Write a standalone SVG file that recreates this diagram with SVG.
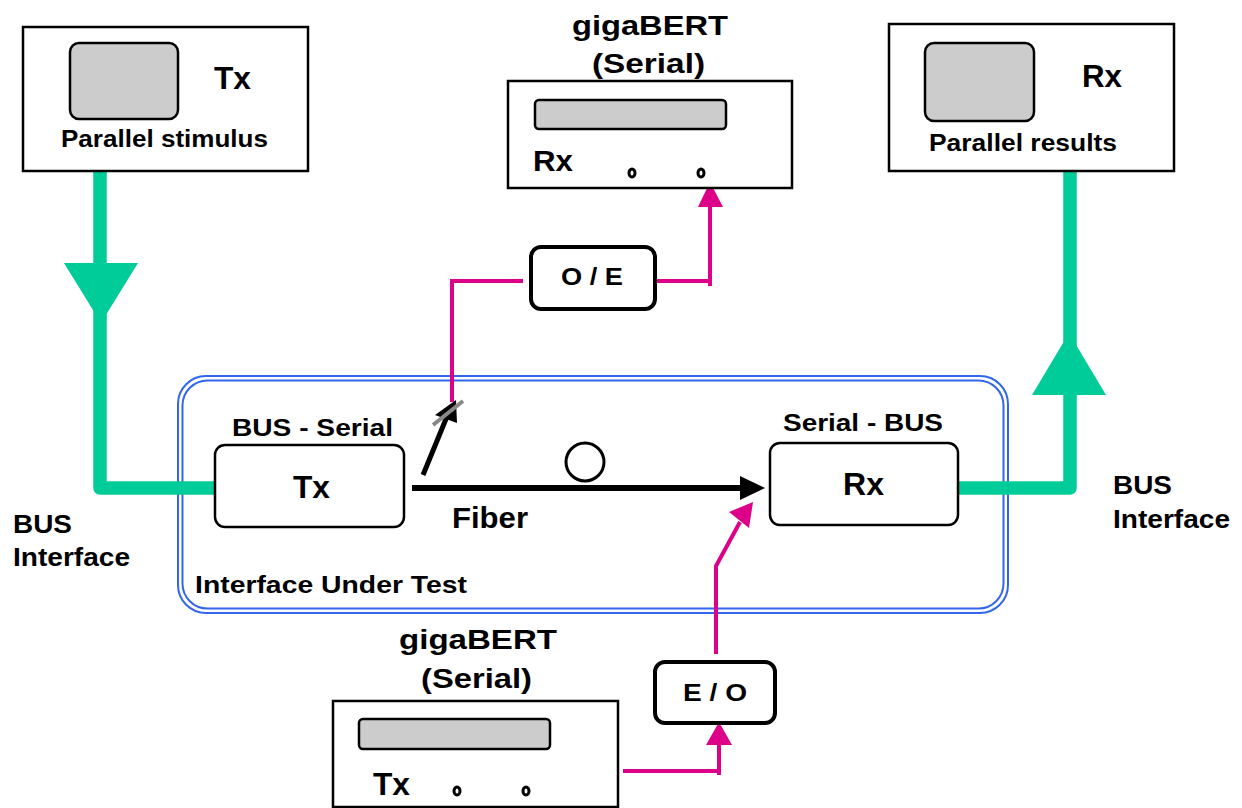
<svg xmlns="http://www.w3.org/2000/svg" width="1242" height="808" viewBox="0 0 1242 808">
<style>
text{font-family:"Liberation Sans",Arial,sans-serif;font-weight:bold;fill:#000}
.box{fill:#fff;stroke:#000;stroke-width:2.5}
.scr{fill:#ccc;stroke:#000;stroke-width:2.5}
.blk{fill:#fff;stroke:#000;stroke-width:2.5}
.conv{fill:#fff;stroke:#000;stroke-width:4}
.knob{fill:#fff;stroke:#000;stroke-width:3}
.bus{fill:none;stroke:#00cc99;stroke-width:13.5;stroke-linejoin:round}
.busHead{fill:#00cc99}
.mag{fill:none;stroke:#dd0088;stroke-width:4}
.magHead{fill:#dd0088}
.blue{fill:none;stroke:#3366ee;stroke-width:2}
</style>
<rect width="1242" height="808" fill="#fff"/>

<g id="iut">
<rect class="blue" x="178" y="376" width="830" height="237" rx="28"/>
<rect class="blue" x="182.5" y="380.5" width="821" height="228" rx="25"/>
<text x="195" y="593" font-size="24" textLength="272" lengthAdjust="spacingAndGlyphs">Interface Under Test</text>
</g>

<g id="connectors">
<path class="bus" d="M100,171 V488 H216"/>
<polygon class="busHead" points="64,263 138,263 101,323"/>
<path class="bus" d="M957,488 H1070 V171"/>
<polygon class="busHead" points="1032,395 1106,395 1069,333"/>
<line x1="412" y1="488" x2="742" y2="488" stroke="#000" stroke-width="6"/>
<polygon points="740,476 765,488 740,500" fill="#000"/>
<line x1="423" y1="475" x2="448" y2="414" stroke="#000" stroke-width="5"/>
<polygon points="435,415 457,423 456,400" fill="#000"/>
<line x1="433" y1="425" x2="463" y2="401" stroke="#888" stroke-width="4"/>
<path class="mag" d="M452,402 V281 H523"/>
<path class="mag" d="M656,281 H710 M710,286 V205"/>
<polygon class="magHead" points="698,207 723,207 710,182"/>
<path class="mag" d="M623,771 H717 M719,775 V743"/>
<polygon class="magHead" points="706,745 732,745 719,722"/>
<path class="mag" d="M716,654 V566 L740,522"/>
<polygon class="magHead" points="729,512 749,528 753,502"/>
</g>

<g id="fiber">
<circle cx="585" cy="462" r="19" fill="#fff" stroke="#000" stroke-width="3"/>
<text x="452" y="528" font-size="30" textLength="76" lengthAdjust="spacingAndGlyphs">Fiber</text>
</g>

<g id="parallel-tx">
<rect class="box" x="23" y="27" width="285" height="144"/>
<rect class="scr" x="70" y="43" width="108" height="76" rx="9"/>
<text x="214" y="89" font-size="32" textLength="37" lengthAdjust="spacingAndGlyphs">Tx</text>
<text x="61" y="147" font-size="23" textLength="207" lengthAdjust="spacingAndGlyphs">Parallel stimulus</text>
</g>

<g id="parallel-rx">
<rect class="box" x="889" y="24" width="285" height="147"/>
<rect class="scr" x="925" y="43" width="109" height="78" rx="9"/>
<text x="1082" y="87" font-size="32" textLength="40" lengthAdjust="spacingAndGlyphs">Rx</text>
<text x="929" y="151" font-size="23" textLength="188" lengthAdjust="spacingAndGlyphs">Parallel results</text>
</g>

<g id="gigabert-rx">
<text x="572" y="35" font-size="28" textLength="156" lengthAdjust="spacingAndGlyphs">gigaBERT</text>
<text x="592" y="73" font-size="28" textLength="113" lengthAdjust="spacingAndGlyphs">(Serial)</text>
<rect class="box" x="508" y="81" width="284" height="107"/>
<rect class="scr" x="535" y="100" width="191" height="29" rx="4"/>
<text x="533" y="171" font-size="30" textLength="40" lengthAdjust="spacingAndGlyphs">Rx</text>
<ellipse class="knob" cx="632" cy="173" rx="3" ry="4"/>
<ellipse class="knob" cx="701" cy="173" rx="3" ry="4"/>
</g>

<g id="oe">
<rect class="conv" x="531" y="247" width="124" height="62" rx="10"/>
<text x="561" y="285" font-size="24" textLength="62" lengthAdjust="spacingAndGlyphs">O / E</text>
</g>

<g id="bus-serial">
<text x="232" y="436" font-size="24" textLength="161" lengthAdjust="spacingAndGlyphs">BUS - Serial</text>
<rect class="blk" x="215" y="445" width="189" height="82" rx="10"/>
<text x="293" y="498" font-size="32" textLength="37" lengthAdjust="spacingAndGlyphs">Tx</text>
</g>

<g id="serial-bus">
<text x="783" y="431" font-size="24" textLength="160" lengthAdjust="spacingAndGlyphs">Serial - BUS</text>
<rect class="blk" x="770" y="443" width="188" height="82" rx="10"/>
<text x="843" y="495" font-size="32" textLength="41" lengthAdjust="spacingAndGlyphs">Rx</text>
</g>

<g id="bus-left">
<text x="13" y="533" font-size="26" textLength="59" lengthAdjust="spacingAndGlyphs">BUS</text>
<text x="13" y="566" font-size="26" textLength="117" lengthAdjust="spacingAndGlyphs">Interface</text>
</g>

<g id="bus-right">
<text x="1113" y="494" font-size="26" textLength="59" lengthAdjust="spacingAndGlyphs">BUS</text>
<text x="1113" y="528" font-size="26" textLength="117" lengthAdjust="spacingAndGlyphs">Interface</text>
</g>

<g id="eo">
<rect class="conv" x="655" y="662" width="120" height="61" rx="10"/>
<text x="683" y="701" font-size="24" textLength="64" lengthAdjust="spacingAndGlyphs">E / O</text>
</g>

<g id="gigabert-tx">
<text x="399" y="649" font-size="28" textLength="158" lengthAdjust="spacingAndGlyphs">gigaBERT</text>
<text x="421" y="688" font-size="28" textLength="111" lengthAdjust="spacingAndGlyphs">(Serial)</text>
<rect class="box" x="333" y="701" width="285" height="106"/>
<rect class="scr" x="359" y="719" width="191" height="30" rx="4"/>
<text x="373" y="795" font-size="32" textLength="37" lengthAdjust="spacingAndGlyphs">Tx</text>
<ellipse class="knob" cx="457" cy="791" rx="3" ry="4"/>
<ellipse class="knob" cx="526" cy="791" rx="3" ry="4"/>
</g>
</svg>
